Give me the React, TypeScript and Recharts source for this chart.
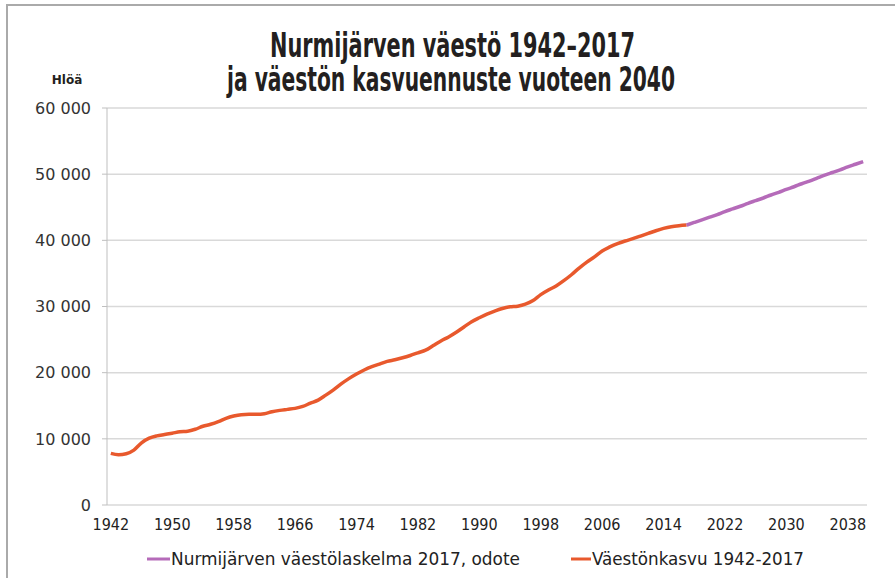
import React from "react";
import { LineChart, Line, XAxis, YAxis, CartesianGrid } from "recharts";

const historyStartYear = 1942;
const forecastStartYear = 2017;
const lastYear = 2040;

// Väestönkasvu 1942-2017
const populationHistory = [
  7800, 7600, 7750, 8300, 9400, 10100, 10450, 10650, 10850, 11070,
  11150, 11450, 11900, 12200, 12600, 13100, 13450, 13650, 13700, 13700,
  13800, 14100, 14300, 14450, 14600, 14900, 15400, 15850, 16600, 17400,
  18300, 19100, 19800, 20400, 20900, 21300, 21700, 21950, 22250, 22600,
  23000, 23400, 24100, 24800, 25400, 26100, 26900, 27700, 28300, 28850,
  29300, 29700, 29950, 30050, 30350, 30900, 31800, 32500, 33100, 33900,
  34800, 35800, 36700, 37500, 38400, 39000, 39500, 39900, 40250, 40650,
  41050, 41450, 41800, 42050, 42200, 42300,
];

// Nurmijärven väestölaskelma 2017, odote (2017-2040)
const populationForecast = [
  42300, 42700, 43100, 43500, 43900, 44350, 44750, 45150, 45600, 46000,
  46400, 46850, 47250, 47700, 48100, 48550, 48950, 49400, 49850, 50250,
  50650, 51100, 51500, 51900,
];

const xTickLabels = [1942, 1950, 1958, 1966, 1974, 1982, 1990, 1998, 2006, 2014, 2022, 2030, 2038];
const yTickValues = [0, 10000, 20000, 30000, 40000, 50000, 60000];

const titleLines = ["Nurmijärven väestö 1942–2017", "ja väestön kasvuennuste vuoteen 2040"];
const yUnitLabel = "Hlöä";
const forecastName = "Nurmijärven väestölaskelma 2017, odote";
const historyName = "Väestönkasvu 1942-2017";

const ORANGE = "#E8592D";
const PURPLE = "#B56BB9";

const data: { year: number; history?: number; forecast?: number }[] = [];
for (let y = historyStartYear; y <= lastYear; y++) {
  const row: { year: number; history?: number; forecast?: number } = { year: y };
  const hi = y - historyStartYear;
  if (hi < populationHistory.length) row.history = populationHistory[hi];
  const fi = y - forecastStartYear;
  if (fi >= 0 && fi < populationForecast.length) row.forecast = populationForecast[fi];
  data.push(row);
}

const minorTicks: number[] = [];
for (let y = historyStartYear; y <= lastYear + 1; y++) minorTicks.push(y - 0.5);

const fmt = (v: number) => (v === 0 ? "0" : String(v).replace(/\B(?=(\d{3})+(?!\d))/g, " "));

const condensed = "'DejaVu Sans Condensed', 'DejaVu Sans', sans-serif";
const titleFont = "'Liberation Sans Narrow', 'DejaVu Sans Condensed', sans-serif";

export default function App() {
  return (
    <div style={{ position: "absolute", left: 0, top: 0, width: 895, height: 578, background: "#fff", overflow: "hidden" }}>
      <div style={{ position: "absolute", left: 6, top: 4, width: 889, height: 2, background: "#aaaaaa" }} />
      <div style={{ position: "absolute", left: 6, top: 4, width: 2, height: 574, background: "#aaaaaa" }} />
      <svg width={895} height={60} style={{ position: "absolute", left: 0, top: 10 }}>
        <text x={452.5} y={47} textAnchor="middle" textLength={365} lengthAdjust="spacingAndGlyphs"
          style={{ fontFamily: titleFont, fontWeight: 700, fontSize: 34, fill: "#231f20" }}>
          {titleLines[0]}
        </text>
      </svg>
      <svg width={895} height={60} style={{ position: "absolute", left: 0, top: 50 }}>
        <text x={451} y={41} textAnchor="middle" textLength={448} lengthAdjust="spacingAndGlyphs"
          style={{ fontFamily: titleFont, fontWeight: 700, fontSize: 34, fill: "#231f20" }}>
          {titleLines[1]}
        </text>
      </svg>
      <svg width={120} height={30} style={{ position: "absolute", left: 0, top: 64 }}>
        <text x={67} y={20} textAnchor="middle"
          style={{ fontFamily: "'DejaVu Sans', sans-serif", fontWeight: 700, fontSize: 12, fill: "#231f20" }}>
          {yUnitLabel}
        </text>
      </svg>
      <div style={{ position: "absolute", left: 0, top: 0 }}>
        <LineChart width={895} height={578} data={data} margin={{ top: 108, right: 28, left: 0, bottom: 43 }}>
          <CartesianGrid vertical={false} stroke="#d9d9d9" strokeWidth={1.5} />
          <XAxis
            xAxisId="minor"
            dataKey="year"
            type="number"
            domain={[historyStartYear - 0.5, lastYear + 0.5]}
            ticks={minorTicks}
            tick={false}
            tickSize={4}
            stroke="#bfbfbf"
            height={0}
            interval={0}
          />
          <XAxis
            xAxisId="main"
            dataKey="year"
            type="number"
            domain={[historyStartYear - 0.5, lastYear + 0.5]}
            ticks={xTickLabels}
            interval={0}
            axisLine={false}
            tickLine={false}
            tickMargin={8}
            height={30}
            tick={{ fontFamily: condensed, fontSize: 16, fill: "#222" }}
          />
          <YAxis
            type="number"
            domain={[0, 60000]}
            ticks={yTickValues}
            interval={0}
            width={107}
            tickFormatter={fmt}
            stroke="#bfbfbf"
            tickSize={5}
            tickMargin={11}
            tick={{ fontFamily: "'DejaVu Sans', sans-serif", fontSize: 16, fill: "#333" }}
          />
          <Line xAxisId="main" type="monotone" dataKey="history" stroke={ORANGE} strokeWidth={3.5}
            dot={false} isAnimationActive={false} connectNulls={false} />
          <Line xAxisId="main" type="monotone" dataKey="forecast" stroke={PURPLE} strokeWidth={3.5}
            dot={false} isAnimationActive={false} connectNulls={false} />
        </LineChart>
      </div>
      <svg width={895} height={26} style={{ position: "absolute", left: 0, top: 547 }}>
        <line x1={147} x2={170} y1={12} y2={12} stroke={PURPLE} strokeWidth={3} />
        <text x={171} y={18} textLength={349} lengthAdjust="spacingAndGlyphs"
          style={{ fontFamily: condensed, fontSize: 17, fill: "#222" }}>
          {forecastName}
        </text>
        <line x1={571} x2={591} y1={12} y2={12} stroke={ORANGE} strokeWidth={3} />
        <text x={592} y={18} textLength={212} lengthAdjust="spacingAndGlyphs"
          style={{ fontFamily: condensed, fontSize: 17, fill: "#222" }}>
          {historyName}
        </text>
      </svg>
    </div>
  );
}
